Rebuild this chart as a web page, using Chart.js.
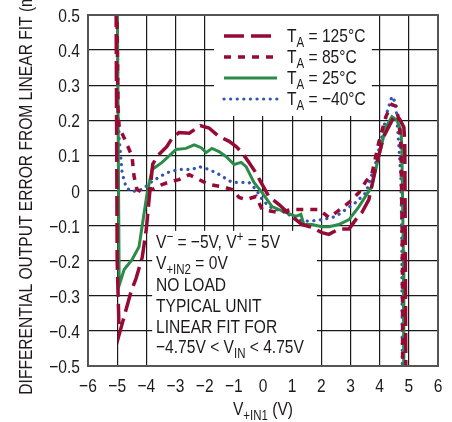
<!DOCTYPE html>
<html>
<head>
<meta charset="utf-8">
<script src="https://cdn.jsdelivr.net/npm/chart.js@4"></script>
<style>
  body { margin: 0; background: #fff; }
  canvas { display: block; }
</style>
</head>
<body>
<canvas id="errChart" width="452" height="422"></canvas>
<script>
// valores (V de entrada, erro em mV)
const x125 = [-5.04, -5.0, -4.93, -4.83, -4.53, -4.35, -4.14, -4.0, -3.9, -3.78, -3.6, -3.3, -3.11, -2.88, -2.53, -2.15, -1.85, -1.51, -1.16, -0.92, -0.72, -0.48, -0.24, -0.05, 0.2, 0.55, 0.99, 1.34, 1.68, 2.02, 2.26, 2.6, 2.95, 3.18, 3.39, 3.63, 3.87, 4.14, 4.49, 4.66, 4.83, 4.86, 4.88, 4.9];
const y125 = [0.6, -0.2, -0.41, -0.38, -0.29, -0.25, -0.19, -0.11, -0.02, 0.075, 0.1, 0.125, 0.15, 0.165, 0.163, 0.185, 0.178, 0.154, 0.14, 0.125, 0.108, 0.08, 0.05, 0.02, -0.017, -0.04, -0.074, -0.097, -0.105, -0.12, -0.125, -0.11, -0.11, -0.083, -0.063, -0.026, 0.068, 0.154, 0.21, 0.207, 0.18, 0.137, -0.17, -0.6];

const x85 = [-5.02, -4.97, -4.93, -4.69, -4.49, -4.42, -4.32, -4.18, -3.8, -3.46, -3.15, -2.88, -2.53, -2.19, -1.85, -1.4, -1.06, -0.82, -0.58, -0.24, -0.03, 0.55, 0.99, 1.47, 1.92, 2.26, 2.5, 2.95, 3.29, 3.53, 3.73, 3.97, 4.21, 4.42, 4.55, 4.66, 4.73, 4.78, 4.79];
const y85 = [0.6, 0.23, 0.18, 0.137, 0.097, 0.04, 0.003, -0.003, 0.003, 0.017, 0.026, 0.031, 0.045, 0.031, 0.017, 0.011, 0.003, -0.02, -0.026, -0.017, -0.054, -0.063, -0.054, -0.054, -0.054, -0.077, -0.063, -0.034, -0.006, 0.026, 0.046, 0.137, 0.21, 0.245, 0.24, 0.2, 0.125, -0.17, -0.6];

const x25 = [-5.0, -4.93, -4.76, -4.49, -4.25, -4.14, -3.97, -3.8, -3.46, -2.98, -2.64, -2.36, -2.12, -1.95, -1.75, -1.51, -1.27, -0.99, -0.75, -0.58, -0.31, -0.03, 0.31, 0.79, 1.13, 1.3, 1.4, 1.68, 2.02, 2.26, 2.6, 2.95, 3.29, 3.73, 3.97, 4.21, 4.42, 4.59, 4.73, 4.76, 4.81, 4.83];
const y25 = [0.6, -0.27, -0.225, -0.197, -0.16, -0.1, -0.006, 0.06, 0.08, 0.117, 0.12, 0.13, 0.122, 0.108, 0.12, 0.111, 0.097, 0.074, 0.08, 0.068, 0.023, -0.006, -0.046, -0.063, -0.074, -0.068, -0.097, -0.097, -0.103, -0.103, -0.097, -0.083, -0.046, 0.011, 0.097, 0.18, 0.21, 0.2, 0.17, 0.125, -0.17, -0.6];

const xM40 = [-5.0, -4.97, -4.93, -4.83, -4.69, -4.49, -4.14, -3.8, -3.32, -2.88, -2.43, -2.19, -1.85, -1.51, -1.06, -0.82, -0.48, -0.24, -0.03, 0.2, 0.45, 0.79, 1.13, 1.58, 2.02, 2.5, 2.84, 3.18, 3.53, 3.87, 4.08, 4.25, 4.42, 4.55, 4.66, 4.73, 4.76, 4.78];
const yM40 = [0.6, 0.23, 0.145, 0.05, 0.008, -0.003, 0.003, 0.026, 0.05, 0.06, 0.06, 0.068, 0.06, 0.046, 0.023, 0.023, 0.023, 0.003, -0.025, -0.045, -0.054, -0.063, -0.083, -0.088, -0.083, -0.074, -0.054, -0.034, -0.006, 0.08, 0.154, 0.222, 0.268, 0.25, 0.125, 0.031, -0.17, -0.6];

const seriesTemps = ['125°C', '85°C', '25°C', '\u221240°C'];
const xTicks = [-6, -5, -4, -3, -2, -1, 0, 1, 2, 3, 4, 5, 6];
const yTicks = [-0.5, -0.4, -0.3, -0.2, -0.1, 0, 0.1, 0.2, 0.3, 0.4, 0.5];

// fonte estreita: Liberation Sans comprimida na horizontal
const FONT = "'Liberation Sans', Arial, sans-serif";
const SQ = 0.82;
const TXT = '#1e1a1b';
const RED = '#960a36';

function toPoints(xs, ys) {
  return xs.map((x, i) => ({ x: x, y: ys[i] }));
}
function minus(s) {
  return String(s).replace('-', '\u2212');
}

function textWidth(ctx, str, size) {
  ctx.font = size + 'px ' + FONT;
  return ctx.measureText(str).width * SQ;
}

function narrowText(ctx, str, x, y, size, align) {
  const w = textWidth(ctx, str, size);
  let x0 = x;
  if (align === 'right') x0 = x - w;
  else if (align === 'center') x0 = x - w / 2;
  ctx.save();
  ctx.translate(x0, y);
  ctx.scale(SQ, 1);
  ctx.textAlign = 'left';
  ctx.textBaseline = 'alphabetic';
  ctx.fillText(str, 0, 0);
  ctx.restore();
  return w;
}

// escreve texto com subscrito / sobrescrito
function runStyle(r) {
  if (r.sub) return { size: 14, dy: 5 };
  if (r.sup) return { size: 14, dy: -7 };
  return { size: 19, dy: 0 };
}
function runsWidth(ctx, runs) {
  return runs.reduce((s, r) => s + textWidth(ctx, r.t, runStyle(r).size), 0);
}
function drawRuns(ctx, x, y, runs) {
  runs.forEach(r => {
    const st = runStyle(r);
    x += narrowText(ctx, r.t, x, y + st.dy, st.size, 'left');
  });
}

const overlay = {
  id: 'overlay',
  beforeDatasetsDraw(chart) {
    const ctx = chart.ctx;
    const xs = chart.scales.x, ys = chart.scales.y;
    const a = chart.chartArea;
    ctx.save();
    ctx.fillStyle = '#fff';
    // caixa da legenda
    ctx.fillRect(xs.getPixelForValue(-1.68), a.top + 1, xs.getPixelForValue(3.73) - xs.getPixelForValue(-1.68), ys.getPixelForValue(0.215) - a.top);
    // caixa das notas
    ctx.fillRect(xs.getPixelForValue(-3.8), ys.getPixelForValue(-0.115), xs.getPixelForValue(1.85) - xs.getPixelForValue(-3.8), a.bottom - ys.getPixelForValue(-0.115) - 1);
    ctx.restore();
  },
  afterDraw(chart) {
    const ctx = chart.ctx;
    const a = chart.chartArea;
    const xs = chart.scales.x, ys = chart.scales.y;
    ctx.save();
    // moldura
    ctx.strokeStyle = '#555';
    ctx.lineWidth = 2;
    ctx.strokeRect(a.left, a.top, a.right - a.left, a.bottom - a.top);

    ctx.fillStyle = TXT;

    // rótulos dos eixos
    ys.ticks.forEach(t => {
      const lbl = t.value === 0 ? '0' : minus(t.value.toFixed(1));
      narrowText(ctx, lbl, a.left - 8, ys.getPixelForValue(t.value) + 7, 19, 'right');
    });
    xs.ticks.forEach(t => {
      narrowText(ctx, minus(t.value), xs.getPixelForValue(t.value), a.bottom + 26, 19, 'center');
    });

    // título do eixo y
    ctx.save();
    ctx.translate(32, (a.top + a.bottom) / 2 - 4);
    ctx.rotate(-Math.PI / 2);
    narrowText(ctx, 'DIFFERENTIAL OUTPUT ERROR FROM LINEAR FIT (mV)', 0, 0, 19, 'center');
    ctx.restore();

    // título do eixo x
    const xt = [{ t: 'V' }, { t: '+IN1', sub: true }, { t: ' (V)' }];
    drawRuns(ctx, (a.left + a.right) / 2 - runsWidth(ctx, xt) / 2, 415, xt);

    // legenda
    chart.data.datasets.forEach((ds, i) => {
      const yy = 36 + i * 21;
      ctx.strokeStyle = ds.borderColor;
      ctx.lineWidth = ds.borderWidth;
      ctx.lineCap = ds.borderCapStyle || 'butt';
      ctx.setLineDash(ds.borderDash || []);
      ctx.beginPath();
      ctx.moveTo(224, yy);
      ctx.lineTo(277, yy);
      ctx.stroke();
      ctx.setLineDash([]);
      drawRuns(ctx, 287, yy + 6, [{ t: 'T' }, { t: 'A', sub: true }, { t: ' = ' + seriesTemps[i] }]);
    });

    // notas
    const nx = 156;
    drawRuns(ctx, nx, 248, [{ t: 'V' }, { t: '\u2212', sup: true }, { t: ' = \u22125V, V' }, { t: '+', sup: true }, { t: ' = 5V' }]);
    drawRuns(ctx, nx, 269, [{ t: 'V' }, { t: '+IN2', sub: true }, { t: ' = 0V' }]);
    drawRuns(ctx, nx, 291, [{ t: 'NO LOAD' }]);
    drawRuns(ctx, nx, 312, [{ t: 'TYPICAL UNIT' }]);
    drawRuns(ctx, nx, 333, [{ t: 'LINEAR FIT FOR' }]);
    drawRuns(ctx, nx, 353, [{ t: '\u22124.75V < V' }, { t: 'IN', sub: true }, { t: ' < 4.75V' }]);
    ctx.restore();
  }
};

const ctxErr = document.getElementById('errChart').getContext('2d');

const errChart = new Chart(ctxErr, {
  type: 'line',
  data: {
    datasets: [{
      label: 'TA = 125°C',
      data: toPoints(x125, y125),
      borderColor: RED,
      borderWidth: 3.5,
      borderDash: [20, 7]
    }, {
      label: 'TA = 85°C',
      data: toPoints(x85, y85),
      borderColor: RED,
      borderWidth: 3.5,
      borderDash: [7, 7]
    }, {
      label: 'TA = 25°C',
      data: toPoints(x25, y25),
      borderColor: '#2a8c48',
      borderWidth: 3
    }, {
      label: 'TA = \u221240°C',
      data: toPoints(xM40, yM40),
      borderColor: '#3355b5',
      borderWidth: 3.2,
      borderDash: [0.1, 6.5],
      borderCapStyle: 'round'
    }]
  },
  options: {
    responsive: false,
    animation: false,
    elements: { point: { radius: 0 }, line: { tension: 0 } },
    layout: { padding: { top: 15, right: 14, left: 0, bottom: 0 } },
    plugins: { legend: { display: false }, tooltip: { enabled: false } },
    scales: {
      x: {
        type: 'linear',
        min: xTicks[0],
        max: xTicks[xTicks.length - 1],
        afterFit: s => { s.height = 56; },
        afterBuildTicks: s => { s.ticks = xTicks.map(v => ({ value: v })); },
        ticks: { display: false },
        grid: { color: '#1a1a1a', lineWidth: 1.2, drawTicks: false },
        border: { display: false }
      },
      y: {
        min: yTicks[0],
        max: yTicks[yTicks.length - 1],
        afterFit: s => { s.width = 88; },
        afterBuildTicks: s => { s.ticks = yTicks.map(v => ({ value: v })); },
        ticks: { display: false },
        grid: { color: '#1a1a1a', lineWidth: 1.2, drawTicks: false },
        border: { display: false }
      }
    }
  },
  plugins: [overlay]
});
</script>
</body>
</html>
